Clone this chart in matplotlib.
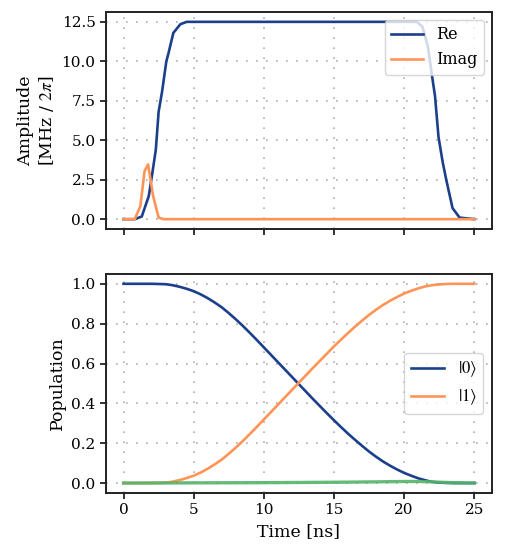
import matplotlib
matplotlib.use("Agg")
import numpy as np
from matplotlib import pyplot as plt

matplotlib.rcParams.update({'font.size': 11,
            'font.family': 'serif', 'font.serif': ['DejaVu Serif'],
            'mathtext.fontset': 'stix'})
matplotlib.rcParams.update({"axes.linewidth": 1.4})

## pulse amplitude
re_t = [0, 0.8, 1.3, 1.8, 2.05, 2.3, 2.5, 2.75, 3.05, 3.2, 3.55, 4.05, 4.5,
        20.9, 21.3, 21.7, 22.0, 22.2, 22.45, 22.75, 23.0, 23.45, 23.95, 25]
re_amp = [0, 0, 0.17, 1.47, 2.9, 4.4, 6.8, 8.1, 10.0, 10.5, 11.8, 12.35, 12.5,
          12.5, 12.2, 10.9, 9.0, 7.8, 5.2, 3.6, 2.5, 0.7, 0.1, 0]
im_t = [0, 0.8, 1.2, 1.5, 1.75, 2.1, 2.5, 2.85, 25]
im_amp = [0, 0, 0.84, 3.05, 3.47, 1.5, 0.1, 0, 0]

## populations, every 0.5 ns
pop_t = [0, 0.5, 1, 1.5, 2, 2.5, 3, 3.5, 4, 4.5, 5, 5.5, 6, 6.5, 7, 7.5, 8,
         8.5, 9, 9.5, 10, 10.5, 11, 11.5, 12, 12.5, 13, 13.5, 14, 14.5, 15,
         15.5, 16, 16.5, 17, 17.5, 18, 18.5, 19, 19.5, 20, 20.5, 21, 21.5,
         22, 22.5, 23, 23.5, 24, 24.5, 25]
pop0 = [1.0, 1.0, 1.0, 1.0, 1.0, 0.999, 0.998, 0.993, 0.985, 0.975, 0.963,
        0.947, 0.928, 0.906, 0.882, 0.853, 0.822, 0.789, 0.754, 0.718, 0.681,
        0.644, 0.607, 0.570, 0.533, 0.496, 0.459, 0.422, 0.386, 0.350, 0.315,
        0.281, 0.248, 0.217, 0.187, 0.158, 0.132, 0.108, 0.087, 0.068, 0.051,
        0.037, 0.024, 0.014, 0.006, 0.002, 0.001, 0.0, 0.0, 0.0, 0.0]
pop1 = [0.0, 0.0, 0.0, 0.0, 0.0, 0.001, 0.002, 0.007, 0.015, 0.025, 0.037,
        0.053, 0.072, 0.094, 0.118, 0.147, 0.178, 0.211, 0.246, 0.282, 0.319,
        0.356, 0.393, 0.430, 0.467, 0.504, 0.541, 0.578, 0.614, 0.650, 0.686,
        0.720, 0.753, 0.785, 0.815, 0.844, 0.870, 0.894, 0.915, 0.934, 0.951,
        0.965, 0.977, 0.987, 0.993, 0.997, 0.999, 1.0, 1.0, 1.0, 1.0]
leak_t = [0, 5, 10, 15, 18, 20, 21, 22, 23, 25]
leak = [0, 0.001, 0.002, 0.004, 0.006, 0.008, 0.008, 0.006, 0.003, 0.0]

blue = "#1c3f8c"
orange = "#ff9457"
green = "#55b46a"

fig = plt.figure(figsize=(5.06, 5.6), dpi=100)
ax_amp = fig.add_axes([0.2095, 0.591, 0.7625, 0.3876])
ax_pop = fig.add_axes([0.2095, 0.1196, 0.7625, 0.3914], sharex=ax_amp)

ax_amp.plot(re_t, re_amp, color=blue, lw=1.9, label="Re")
ax_amp.plot(im_t, im_amp, color=orange, lw=1.9, label="Imag")
ax_amp.set(ylabel="Amplitude\n[MHz / $2\\pi$]", yticks=[0, 2.5, 5, 7.5, 10, 12.5])
ax_amp.legend(loc="upper right", fontsize=11.5)
ax_amp.tick_params(labelbottom=False)

ax_pop.plot(pop_t, pop0, color=blue, lw=1.9, label=r"$|0\rangle$")
ax_pop.plot(pop_t, pop1, color=orange, lw=1.9, label=r"$|1\rangle$")
ax_pop.plot(leak_t, leak, color=green, lw=2.4, alpha=0.9)
ax_pop.set(ylabel="Population", xlabel="Time [ns]",
           yticks=[0, 0.2, 0.4, 0.6, 0.8, 1.0], xticks=[0, 5, 10, 15, 20, 25])
ax_pop.legend(loc="center right", fontsize=12)

for ax in [ax_amp, ax_pop]:
    ax.grid(True, color="#9a9a9a", lw=1.2, ls=(0, (1, 5)), alpha=0.8)
    ax.tick_params(direction="out", length=4, width=1.3, color="#222222")
    for s in ax.spines.values():
        s.set_color("#222222")
    ax.yaxis.label.set_size(12.5)
ax_pop.xaxis.label.set_size(12.5)

fig.savefig("out.png", dpi=100)
